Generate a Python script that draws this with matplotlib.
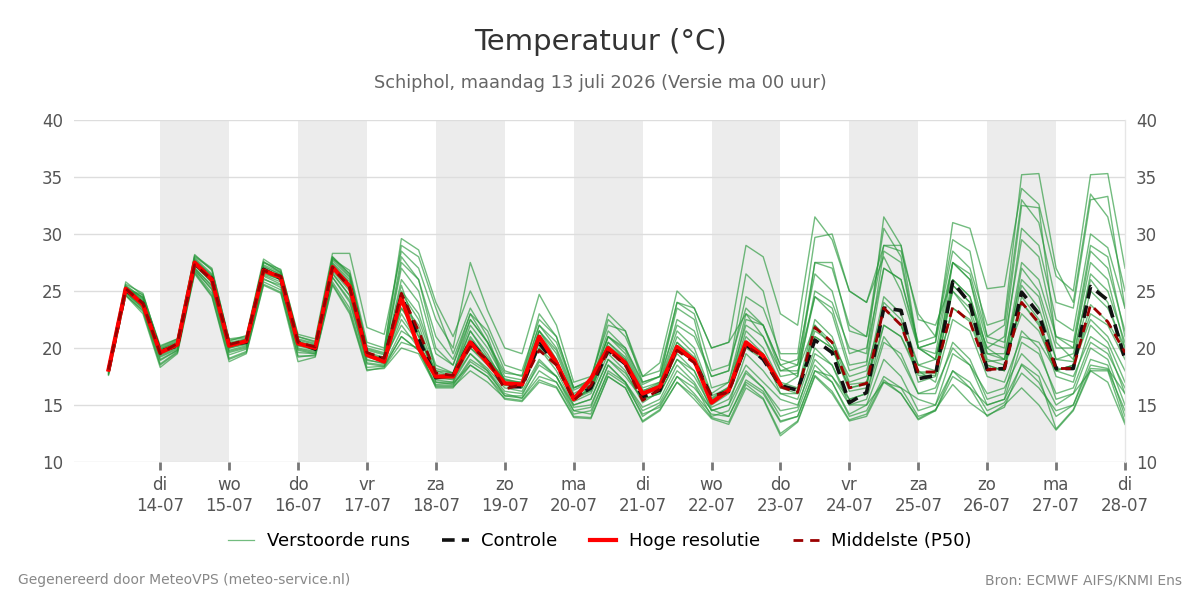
import matplotlib
matplotlib.use("Agg")
import matplotlib.pyplot as plt
from matplotlib.lines import Line2D
import pandas as pd

# Tijdas: 6-uurlijkse stappen vanaf ma 13-07 06 uur
tijden = pd.date_range("2026-07-13 06:00", periods=60, freq="6h")

# Hoge resolutie (loopt tot 23-07 00 uur)
hoge_resolutie = [18.1, 25.2, 23.8,
                  19.6, 20.3, 27.5, 26.0, 20.2, 20.6, 26.8, 26.2, 20.4, 20.0, 27.1, 25.4,
                  19.4, 18.8, 24.4, 20.0, 17.5, 17.5, 20.5, 18.7, 16.9, 16.8, 21.0, 18.7,
                  15.5, 17.3, 20.0, 18.7, 16.0, 16.6, 20.1, 18.9, 15.2, 16.3, 20.5, 19.3,
                  16.8]

controle = [18.0, 25.1, 23.9,
            19.7, 20.2, 27.4, 26.1, 20.3, 20.5, 26.9, 26.1, 20.5, 19.9, 27.0, 25.5,
            19.5, 19.0, 24.6, 20.8, 17.4, 17.6, 20.6, 18.8, 16.6, 16.6, 20.4, 18.6,
            15.6, 16.5, 19.8, 18.6, 15.7, 16.3, 20.0, 18.9, 15.7, 16.2, 20.3, 19.0,
            16.7, 16.3, 20.7, 19.6, 15.2, 16.1, 23.5, 23.3, 17.3, 17.6, 25.8, 23.9,
            18.1, 18.2, 24.9, 23.0, 18.2, 18.2, 25.4, 24.2, 19.0]

mediaan = [18.1, 25.2, 23.9,
           19.5, 20.4, 27.3, 26.0, 20.3, 20.7, 26.8, 26.3, 20.5, 20.1, 27.1, 25.3,
           19.6, 19.1, 24.8, 21.5, 17.8, 17.6, 20.1, 19.0, 16.4, 16.8, 19.8, 18.5,
           15.4, 16.7, 19.8, 18.5, 15.4, 16.4, 19.8, 18.7, 15.8, 16.1, 20.2, 19.2,
           16.6, 16.1, 21.8, 20.5, 16.5, 16.9, 23.5, 22.0, 17.9, 17.9, 23.6, 22.3,
           18.1, 18.2, 24.0, 22.2, 18.2, 18.2, 23.8, 22.3, 19.6]

# Verstoorde runs (ensembleleden)
leden = [
    [18.2, 25.4, 24.0, 19.8, 20.4, 27.8, 26.3, 20.3, 20.8, 27.1, 26.5, 20.6, 20.1, 27.4, 25.8, 19.6, 19.2, 25.5, 21.0, 18.0, 17.8, 21.5, 19.2, 17.2, 17.0, 21.5, 19.5, 15.8, 16.6, 20.5, 19.0, 16.0, 16.9, 21.0, 19.5, 15.8, 16.5, 21.5, 20.0, 17.0, 16.5, 22.5, 21.0, 17.0, 17.5, 24.5, 23.0, 18.5, 18.0, 25.0, 23.5, 18.8, 19.0, 25.5, 23.5, 19.0, 18.8, 25.0, 23.5, 20.0],
    [17.8, 24.8, 23.5, 19.0, 19.8, 26.8, 25.2, 19.6, 20.0, 26.0, 25.5, 19.8, 19.5, 26.2, 24.0, 18.6, 18.4, 21.0, 19.8, 16.8, 16.9, 18.5, 17.5, 15.8, 15.6, 18.0, 17.0, 14.5, 14.2, 18.0, 17.0, 14.0, 15.0, 17.5, 16.0, 14.2, 14.0, 17.0, 16.0, 13.5, 14.0, 18.0, 17.0, 14.0, 14.5, 17.5, 16.5, 14.0, 14.5, 18.0, 16.5, 15.0, 15.5, 18.5, 17.0, 14.0, 15.0, 19.0, 18.5, 14.0],
    [18.4, 25.8, 24.6, 20.2, 20.8, 28.2, 26.8, 20.8, 21.0, 27.5, 26.9, 21.0, 20.6, 28.0, 26.5, 20.2, 19.8, 29.6, 28.6, 24.0, 21.0, 25.0, 22.0, 18.5, 18.0, 22.5, 21.0, 16.5, 17.0, 21.0, 20.0, 17.0, 17.5, 22.0, 21.0, 17.5, 18.0, 24.5, 23.5, 19.5, 19.5, 29.7, 30.0, 25.0, 24.0, 28.0, 25.0, 20.0, 19.0, 26.0, 24.5, 19.0, 18.5, 24.0, 22.0, 17.5, 17.0, 22.0, 20.5, 17.0],
    [18.0, 25.0, 23.6, 19.4, 20.1, 27.2, 25.8, 20.0, 20.4, 26.5, 26.0, 20.2, 19.8, 26.8, 25.0, 19.2, 18.8, 23.0, 20.5, 17.5, 17.2, 20.0, 18.5, 16.8, 16.5, 20.5, 18.8, 15.6, 16.3, 20.0, 18.5, 15.8, 16.5, 19.5, 18.0, 15.0, 16.0, 20.0, 19.0, 16.5, 17.5, 25.0, 24.0, 20.0, 19.5, 31.5, 29.0, 20.0, 20.5, 31.0, 30.5, 25.2, 25.4, 34.0, 32.6, 26.3, 25.0, 35.2, 35.3, 27.0],
    [18.1, 25.3, 24.3, 19.5, 20.2, 27.6, 26.1, 20.4, 20.6, 27.0, 26.3, 20.5, 20.2, 27.5, 26.0, 19.5, 19.0, 24.0, 22.0, 17.8, 17.5, 21.0, 19.0, 17.0, 16.8, 21.0, 19.0, 15.5, 16.5, 20.5, 19.2, 16.2, 17.0, 21.5, 20.0, 16.0, 17.0, 22.0, 21.0, 17.5, 17.8, 24.5, 23.0, 18.0, 18.5, 27.0, 26.0, 20.5, 21.0, 29.5, 28.5, 21.0, 22.0, 33.0, 31.0, 24.0, 23.5, 33.0, 33.3, 23.5],
    [17.9, 25.0, 23.9, 19.7, 20.3, 27.4, 25.7, 20.1, 20.5, 26.6, 26.0, 20.3, 19.9, 27.0, 25.2, 19.3, 19.0, 22.0, 20.0, 17.3, 17.3, 19.5, 18.2, 16.5, 16.2, 19.0, 17.5, 15.0, 15.5, 19.0, 17.8, 15.5, 16.0, 19.0, 17.5, 14.8, 15.5, 18.5, 17.0, 15.5, 15.0, 19.0, 17.5, 15.5, 16.0, 21.0, 19.0, 16.0, 16.5, 20.0, 18.5, 16.0, 16.5, 19.5, 18.0, 15.0, 16.0, 18.0, 17.0, 13.3],
    [18.3, 25.6, 24.8, 19.9, 20.6, 27.9, 26.5, 20.5, 20.8, 27.6, 26.6, 20.8, 20.4, 27.9, 26.3, 19.9, 19.5, 27.0, 25.0, 19.5, 18.5, 23.0, 20.5, 17.5, 17.2, 22.0, 20.0, 16.3, 17.0, 21.5, 20.0, 16.8, 17.5, 23.5, 22.5, 16.5, 17.0, 23.0, 22.0, 18.5, 17.5, 27.5, 27.0, 22.0, 21.0, 30.5, 28.0, 20.0, 19.0, 25.0, 23.0, 18.5, 18.0, 27.0, 25.0, 20.0, 20.0, 28.5, 27.0, 21.5],
    [17.7, 24.7, 23.2, 18.5, 19.6, 26.6, 24.6, 19.0, 19.6, 25.6, 24.9, 19.3, 19.3, 25.6, 23.2, 18.1, 18.2, 20.0, 19.5, 16.6, 16.6, 18.0, 17.0, 15.6, 15.4, 17.2, 16.6, 14.0, 13.9, 17.5, 16.5, 13.6, 14.6, 17.0, 15.8, 13.9, 13.5, 16.8, 15.6, 12.5, 13.6, 17.6, 16.2, 13.7, 14.2, 17.2, 16.0, 13.8, 14.6, 16.8, 15.2, 14.1, 14.8, 18.6, 17.5, 12.9, 14.6, 18.2, 18.1, 14.5],
    [18.1, 25.2, 24.5, 19.3, 20.0, 27.0, 25.5, 19.8, 20.2, 26.4, 25.8, 20.0, 19.7, 26.6, 24.6, 19.0, 18.6, 23.5, 21.5, 17.0, 17.0, 20.8, 19.0, 17.3, 16.9, 20.0, 18.5, 15.3, 16.0, 19.5, 18.0, 15.2, 16.2, 19.8, 18.8, 15.5, 16.5, 20.5, 19.5, 16.8, 16.4, 21.5, 20.5, 16.8, 17.0, 22.0, 21.0, 17.6, 17.6, 23.5, 22.5, 18.5, 18.0, 24.5, 22.5, 18.0, 18.5, 23.0, 22.0, 19.0],
    [18.4, 25.5, 24.4, 20.1, 20.8, 28.0, 26.9, 20.6, 21.1, 27.8, 26.8, 21.2, 20.8, 28.3, 28.3, 21.8, 21.2, 28.5, 27.0, 22.5, 20.0, 27.5, 23.3, 20.0, 19.5, 24.7, 22.0, 17.0, 17.5, 22.0, 21.5, 17.5, 18.7, 25.0, 23.5, 20.0, 20.5, 23.0, 21.0, 18.0, 18.0, 22.0, 20.5, 17.5, 18.0, 23.5, 22.0, 18.5, 19.0, 25.5, 24.0, 19.5, 19.5, 26.0, 24.5, 19.0, 19.5, 26.0, 24.0, 19.5],
    [18.0, 25.1, 23.7, 19.6, 20.2, 27.3, 25.9, 20.2, 20.5, 26.9, 26.2, 20.4, 20.0, 27.2, 25.5, 19.4, 18.9, 24.8, 22.5, 18.2, 17.8, 22.0, 20.0, 17.2, 16.8, 21.5, 19.0, 15.5, 16.2, 20.2, 19.0, 16.0, 16.8, 20.5, 19.2, 15.2, 16.2, 22.5, 22.0, 18.0, 18.5, 27.5, 27.5, 21.5, 21.0, 29.0, 29.0, 22.5, 22.0, 26.0, 24.5, 20.0, 19.0, 23.0, 21.5, 18.0, 17.5, 21.0, 20.0, 16.0],
    [18.2, 25.3, 24.1, 19.6, 20.3, 27.6, 26.2, 20.3, 20.7, 27.2, 26.4, 20.5, 20.1, 27.3, 25.6, 19.5, 19.1, 26.0, 24.0, 18.0, 17.5, 21.5, 19.5, 16.8, 16.6, 20.8, 18.8, 15.8, 16.8, 21.0, 19.5, 16.3, 16.6, 20.5, 19.0, 15.6, 16.6, 21.0, 19.5, 16.0, 16.0, 22.0, 20.0, 16.2, 16.5, 24.0, 22.5, 17.0, 17.5, 25.5, 24.0, 20.0, 21.0, 32.5, 32.3, 20.5, 19.0, 26.5, 25.0, 20.5],
    [17.6, 24.6, 23.0, 18.3, 19.5, 26.5, 24.5, 18.8, 19.5, 25.5, 24.8, 18.8, 19.2, 25.5, 23.0, 18.0, 18.3, 20.5, 20.0, 16.5, 16.5, 18.5, 17.5, 15.5, 15.3, 17.0, 16.5, 13.9, 13.8, 17.5, 16.5, 13.5, 14.5, 17.0, 15.5, 13.8, 13.3, 16.5, 15.5, 12.3, 13.5, 17.5, 16.0, 13.6, 14.0, 17.0, 16.0, 13.7, 14.5, 17.5, 16.5, 14.0, 15.0, 16.5, 15.0, 12.8, 14.5, 18.0, 18.0, 13.5],
    [18.1, 25.2, 23.9, 19.7, 20.4, 27.5, 26.0, 20.2, 20.6, 26.8, 26.1, 20.3, 20.0, 27.0, 25.3, 19.4, 18.8, 23.5, 21.0, 17.6, 17.6, 20.0, 18.8, 16.7, 16.7, 20.5, 18.6, 15.5, 16.5, 20.0, 18.6, 15.9, 16.7, 20.0, 19.0, 15.4, 16.4, 20.5, 19.2, 16.5, 16.0, 21.0, 20.0, 16.5, 16.8, 23.5, 22.0, 17.9, 17.9, 27.5, 26.0, 20.5, 20.0, 30.5, 29.0, 22.5, 21.5, 30.0, 28.8, 23.5],
    [18.2, 25.4, 24.4, 19.9, 20.5, 27.4, 25.9, 20.0, 20.3, 26.7, 26.0, 20.2, 20.3, 27.8, 26.8, 20.5, 20.0, 29.0, 28.0, 23.5, 19.5, 23.5, 21.0, 17.0, 16.5, 20.0, 18.0, 15.0, 15.5, 19.0, 17.5, 15.5, 16.0, 19.0, 18.0, 14.5, 15.0, 19.5, 18.0, 16.0, 15.5, 20.0, 18.5, 15.5, 16.0, 22.0, 21.0, 18.0, 17.0, 22.5, 21.5, 17.5, 17.0, 21.0, 20.5, 18.0, 18.5, 22.5, 21.0, 18.0],
    [18.3, 25.3, 24.2, 19.8, 20.4, 27.7, 26.4, 20.4, 20.7, 27.3, 26.6, 20.7, 20.3, 27.7, 26.2, 19.8, 19.4, 27.5, 26.0, 20.0, 18.5, 22.5, 20.5, 17.8, 17.6, 22.0, 20.5, 16.5, 17.2, 22.5, 21.0, 17.5, 18.0, 24.0, 23.5, 20.0, 20.5, 29.0, 28.0, 23.0, 22.0, 31.5, 29.5, 25.0, 24.0, 29.0, 28.5, 23.0, 21.0, 28.5, 27.0, 22.0, 22.5, 35.2, 35.3, 27.0, 24.0, 33.5, 31.5, 25.0],
    [17.9, 24.9, 23.6, 19.2, 19.9, 27.0, 25.4, 19.7, 20.1, 26.3, 25.6, 19.9, 19.6, 26.5, 24.6, 18.9, 18.7, 22.5, 20.5, 17.2, 17.0, 19.5, 18.0, 16.2, 16.0, 18.5, 17.5, 14.8, 15.0, 18.5, 17.0, 14.8, 15.5, 18.5, 17.0, 14.5, 15.0, 18.0, 16.5, 14.5, 14.8, 19.5, 18.5, 15.0, 15.5, 20.5, 19.5, 16.0, 16.0, 20.5, 19.0, 15.5, 16.0, 21.5, 20.0, 15.5, 16.0, 20.0, 19.0, 15.0],
    [18.0, 25.0, 23.8, 19.5, 20.3, 27.3, 25.8, 20.3, 20.6, 26.9, 26.3, 20.5, 20.1, 27.2, 25.2, 19.4, 19.0, 25.0, 23.0, 18.5, 17.8, 22.5, 20.5, 17.0, 17.0, 21.5, 19.8, 16.0, 16.8, 21.0, 19.8, 16.5, 17.0, 22.5, 21.5, 17.5, 18.0, 26.5, 25.0, 19.0, 18.5, 24.5, 23.5, 18.5, 18.8, 28.5, 27.5, 20.0, 19.5, 27.5, 26.5, 21.0, 20.5, 29.5, 28.0, 21.0, 20.0, 27.5, 26.0, 20.0],
    [17.8, 24.9, 23.4, 18.9, 19.8, 26.9, 25.1, 19.4, 19.9, 26.1, 25.3, 19.6, 19.5, 26.2, 24.2, 18.7, 18.5, 21.5, 20.5, 17.0, 16.8, 19.0, 18.0, 15.8, 15.8, 18.8, 17.5, 14.5, 14.8, 18.5, 17.0, 14.5, 15.2, 18.0, 16.8, 14.0, 14.5, 17.8, 16.5, 14.0, 14.5, 18.5, 17.0, 14.2, 15.0, 19.0, 17.5, 14.5, 15.0, 19.5, 18.5, 15.0, 15.5, 20.5, 19.5, 16.0, 16.5, 20.5, 19.5, 16.5],
    [18.1, 25.2, 24.0, 19.6, 20.2, 27.5, 26.0, 20.2, 20.6, 26.9, 26.3, 20.4, 20.0, 27.1, 25.5, 19.4, 18.9, 24.2, 21.5, 17.6, 17.4, 20.5, 18.7, 16.9, 16.7, 20.5, 18.7, 15.5, 16.4, 20.0, 18.7, 15.9, 16.6, 20.0, 18.9, 15.3, 16.3, 20.5, 19.3, 16.7, 16.2, 21.0, 20.0, 16.5, 16.9, 23.5, 22.0, 17.8, 17.8, 23.5, 22.3, 18.1, 18.2, 24.0, 22.2, 18.2, 18.2, 23.8, 22.3, 19.6],
    [18.2, 25.1, 24.7, 20.0, 20.7, 28.1, 27.0, 20.7, 20.9, 27.5, 26.7, 21.0, 20.5, 28.0, 26.5, 20.0, 19.6, 28.0, 26.0, 21.0, 19.0, 23.0, 21.5, 18.0, 17.5, 23.0, 21.0, 16.5, 17.2, 23.0, 21.5, 17.0, 17.5, 24.0, 23.0, 18.0, 18.5, 23.5, 22.0, 18.5, 19.0, 26.5, 25.0, 19.5, 20.0, 27.0, 26.0, 20.0, 20.5, 27.5, 26.0, 19.5, 19.0, 27.5, 26.0, 21.0, 20.5, 29.0, 28.0, 21.0],
    [17.7, 24.6, 23.3, 18.6, 19.7, 26.7, 24.8, 19.1, 19.7, 25.8, 25.1, 19.2, 19.4, 25.8, 23.5, 18.3, 18.4, 21.0, 19.8, 16.7, 16.7, 18.8, 17.8, 16.0, 15.6, 17.5, 17.0, 14.2, 14.5, 17.8, 16.8, 14.2, 14.8, 17.5, 16.5, 14.6, 14.0, 17.2, 16.2, 13.6, 14.0, 18.0, 17.5, 15.0, 15.0, 17.0, 16.5, 15.5, 15.0, 18.0, 17.0, 14.5, 15.2, 17.8, 16.5, 14.5, 15.0, 18.5, 18.2, 16.0],
]

dag_namen = ["di", "wo", "do", "vr", "za", "zo", "ma", "di", "wo", "do", "vr", "za", "zo", "ma", "di"]
dag_data = pd.date_range("2026-07-14", "2026-07-28", freq="D")
tick_labels = [f"{n}\n{d.strftime('%d-%m')}" for n, d in zip(dag_namen, dag_data)]

plt.rcParams["font.family"] = ["DejaVu Sans"]

fig = plt.figure(figsize=(12, 6), dpi=100)
ax = fig.add_axes([0.0617, 0.23, 0.8758, 0.57])

# Grijze banden voor afwisselende dagen
for i in range(0, len(dag_data) - 1, 2):
    ax.axvspan(dag_data[i], dag_data[i + 1], color="#ececec", lw=0, zorder=0)

for lid in leden:
    ax.plot(tijden, lid, color="#27983a", lw=1.0, alpha=0.65, zorder=2)

ax.plot(tijden, controle, color="#111111", lw=2.6, ls=(0, (3.5, 2)), zorder=3)
ax.plot(tijden[:len(hoge_resolutie)], hoge_resolutie, color="#ff0000", lw=3, zorder=4)
ax.plot(tijden, mediaan, color="#9b0000", lw=2, ls=(0, (3.5, 2.5)), zorder=5)

ax.set_ylim(10, 40)
ax.set_xlim(pd.Timestamp("2026-07-12 18:00"), pd.Timestamp("2026-07-28 00:00"))
ax.set_yticks([10, 15, 20, 25, 30, 35, 40])
ax.grid(axis="y", color="#dddddd", lw=1, zorder=1)
ax.set_axisbelow(True)

ax.set_xticks(dag_data)
ax.set_xticklabels(tick_labels)
ax.tick_params(axis="x", length=6, width=2, color="#777777", labelsize=12,
               labelcolor="#555555", pad=4)
ax.tick_params(axis="y", length=0, labelsize=12, labelcolor="#555555", pad=8,
               labelright=True, right=False)

for s in ["left", "top", "bottom"]:
    ax.spines[s].set_visible(False)
ax.spines["right"].set_color("#e6e6e6")
ax.spines["right"].set_linewidth(1)

fig.text(0.5, 0.93, "Temperatuur (°C)", ha="center", va="center", fontsize=21, color="#333333")
fig.text(0.5, 0.862, "Schiphol, maandag 13 juli 2026 (Versie ma 00 uur)", ha="center",
         va="center", fontsize=12.8, color="#666666")

handles = [
    Line2D([], [], color="#27983a", lw=0.9, alpha=0.65),
    Line2D([], [], color="#111111", lw=2.6, ls=(0, (3.5, 2))),
    Line2D([], [], color="#ff0000", lw=3),
    Line2D([], [], color="#9b0000", lw=2, ls=(0, (3.5, 2.5))),
]
labels = ["Verstoorde runs", "Controle", "Hoge resolutie", "Middelste (P50)"]
fig.legend(handles, labels, loc="center", bbox_to_anchor=(0.5, 0.098), ncol=4,
           frameon=False, fontsize=13, handlelength=1.45, handletextpad=0.7,
           columnspacing=1.8)

fig.text(0.015, 0.033, "Gegenereerd door MeteoVPS (meteo-service.nl)", ha="left",
         va="center", fontsize=10, color="#888888")
fig.text(0.985, 0.033, "Bron: ECMWF AIFS/KNMI Ens", ha="right", va="center",
         fontsize=10, color="#888888")

fig.savefig("out.png", dpi=100)
